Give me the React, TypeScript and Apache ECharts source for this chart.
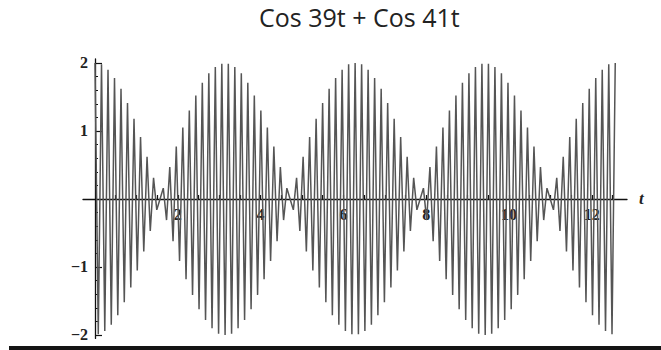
import React, { useEffect, useRef } from "react";
import * as echarts from "echarts";

const TITLE = "Cos 39t + Cos 41t";
const AXIS_NAME = "t";

// extrema of the curve, first beat period (t from 0 to about 6.28)
const tFirstBeat = [
  0, 0.079, 0.157, 0.236, 0.314, 0.393, 0.471, 0.55, 0.628, 0.707, 0.785, 0.864, 0.942, 1.021, 1.1, 1.178, 1.257,
  1.335, 1.414, 1.492, 1.571, 1.649, 1.728, 1.806, 1.885, 1.963, 2.042, 2.121, 2.199, 2.278, 2.356, 2.435, 2.513,
  2.592, 2.67, 2.749, 2.827, 2.906, 2.985, 3.063, 3.142, 3.22, 3.299, 3.377, 3.456, 3.534, 3.613, 3.691, 3.77,
  3.848, 3.927, 4.006, 4.084, 4.163, 4.241, 4.32, 4.398, 4.477, 4.555, 4.634, 4.712, 4.791, 4.869, 4.948, 5.027,
  5.105, 5.184, 5.262, 5.341, 5.419, 5.498, 5.576, 5.655, 5.733, 5.812, 5.89, 5.969, 6.048, 6.126, 6.205, 6.283,
];
const yFirstBeat = [
  2.0, -1.99, 1.98, -1.94, 1.9, -1.85, 1.78, -1.71, 1.62, -1.52, 1.41, -1.3, 1.18, -1.05, 0.91, -0.77, 0.62,
  -0.47, 0.31, -0.16, 0, 0.16, -0.31, 0.47, -0.62, 0.77, -0.91, 1.05, -1.18, 1.3, -1.41, 1.52, -1.62,
  1.71, -1.78, 1.85, -1.9, 1.94, -1.98, 1.99, -2.0, 1.99, -1.98, 1.94, -1.9, 1.85, -1.78, 1.71, -1.62,
  1.52, -1.41, 1.3, -1.18, 1.05, -0.91, 0.77, -0.62, 0.47, -0.31, 0.16, 0, -0.16, 0.31, -0.47, 0.62,
  -0.77, 0.91, -1.05, 1.18, -1.3, 1.41, -1.52, 1.62, -1.71, 1.78, -1.85, 1.9, -1.94, 1.98, -1.99, 2.0,
];
// extrema of the curve, second beat period (t from about 6.36 to 12.57)
const tSecondBeat = [
  6.362, 6.44, 6.519, 6.597, 6.676, 6.754, 6.833, 6.912, 6.99, 7.069, 7.147, 7.226, 7.304, 7.383, 7.461, 7.54,
  7.618, 7.697, 7.775, 7.854, 7.933, 8.011, 8.09, 8.168, 8.247, 8.325, 8.404, 8.482, 8.561, 8.639, 8.718, 8.796,
  8.875, 8.954, 9.032, 9.111, 9.189, 9.268, 9.346, 9.425, 9.503, 9.582, 9.66, 9.739, 9.817, 9.896, 9.975, 10.053,
  10.132, 10.21, 10.289, 10.367, 10.446, 10.524, 10.603, 10.681, 10.76, 10.838, 10.917, 10.996, 11.074, 11.153,
  11.231, 11.31, 11.388, 11.467, 11.545, 11.624, 11.702, 11.781, 11.859, 11.938, 12.017, 12.095, 12.174, 12.252,
  12.331, 12.409, 12.488, 12.566,
];
const ySecondBeat = [
  -1.99, 1.98, -1.94, 1.9, -1.85, 1.78, -1.71, 1.62, -1.52, 1.41, -1.3, 1.18, -1.05, 0.91, -0.77, 0.62,
  -0.47, 0.31, -0.16, 0, 0.16, -0.31, 0.47, -0.62, 0.77, -0.91, 1.05, -1.18, 1.3, -1.41, 1.52, -1.62,
  1.71, -1.78, 1.85, -1.9, 1.94, -1.98, 1.99, -2.0, 1.99, -1.98, 1.94, -1.9, 1.85, -1.78, 1.71, -1.62,
  1.52, -1.41, 1.3, -1.18, 1.05, -0.91, 0.77, -0.62, 0.47, -0.31, 0.16, 0, -0.16, 0.31, -0.47, 0.62,
  -0.77, 0.91, -1.05, 1.18, -1.3, 1.41, -1.52, 1.62, -1.71, 1.78, -1.85, 1.9, -1.94, 1.98, -1.99, 2.0,
];

const xTickValues = [0.5, 1, 1.5, 2, 2.5, 3, 3.5, 4, 4.5, 5, 5.5, 6, 6.5, 7, 7.5, 8, 8.5, 9, 9.5, 10, 10.5, 11, 11.5, 12, 12.5];
const xLabelValues = [2, 4, 6, 8, 10, 12];
const yMajorValues = [-2, -1, 1, 2];
const yMinorValues = [-2, -1.8, -1.6, -1.4, -1.2, -1, -0.8, -0.6, -0.4, -0.2, 0.2, 0.4, 0.6, 0.8, 1, 1.2, 1.4, 1.6, 1.8, 2];

const X_MIN = -0.29;
const X_MAX = 12.85;
const Y_MIN = -2.05;
const Y_MAX = 2.06;

const GRID_LEFT = 83;
const GRID_TOP = 58.9;
const GRID_WIDTH = 544;
const GRID_HEIGHT = 279.5;

export default function App() {
  const ref = useRef<HTMLDivElement>(null);

  useEffect(() => {
    if (!ref.current) return;
    const chart = echarts.init(ref.current, null, { renderer: "svg" });
    const data: number[][] = [];
    tFirstBeat.forEach((t, i) => data.push([t, yFirstBeat[i]]));
    tSecondBeat.forEach((t, i) => data.push([t, ySecondBeat[i]]));

    // move the axes from the grid edges to the zero lines
    const xAxisOffset = -(GRID_HEIGHT * (0 - Y_MIN)) / (Y_MAX - Y_MIN);
    const yAxisOffset = -(GRID_WIDTH * (0 - X_MIN)) / (X_MAX - X_MIN);

    const labelFont = {
      fontFamily: "'Liberation Serif', 'DejaVu Serif', serif",
      fontWeight: "bold" as const,
      fontSize: 16,
      color: "#222",
    };

    chart.setOption({
      animation: false,
      backgroundColor: "#fff",
      title: {
        text: TITLE,
        left: 254,
        top: -1,
        textStyle: {
          fontFamily: "'Open Sans', 'Noto Sans', sans-serif",
          fontWeight: "normal",
          fontSize: 25,
          color: "#222",
        },
      },
      grid: {
        left: GRID_LEFT,
        top: GRID_TOP,
        width: GRID_WIDTH,
        height: GRID_HEIGHT,
        outerBoundsMode: "none",
        containLabel: false,
      },
      xAxis: {
        type: "value",
        min: X_MIN,
        max: X_MAX,
        position: "bottom",
        offset: xAxisOffset,
        name: AXIS_NAME,
        nameLocation: "end",
        nameGap: 12,
        nameTextStyle: {
          fontFamily: "'Liberation Serif', serif",
          fontStyle: "italic",
          fontWeight: "bold",
          fontSize: 17,
          color: "#222",
        },
        axisLine: { onZero: false, lineStyle: { color: "#111", width: 1.3 } },
        axisTick: { inside: true, length: 4, customValues: xTickValues, lineStyle: { color: "#111", width: 1.2 } },
        axisLabel: { customValues: xLabelValues, margin: 8, ...labelFont },
        splitLine: { show: false },
      },
      yAxis: [
        {
          type: "value",
          min: Y_MIN,
          max: Y_MAX,
          position: "left",
          offset: yAxisOffset,
          axisLine: { onZero: false, lineStyle: { color: "#111", width: 1.3 } },
          axisTick: { inside: true, length: 7, customValues: yMajorValues, lineStyle: { color: "#111", width: 1.2 } },
          axisLabel: {
            customValues: yMajorValues,
            margin: 7,
            formatter: (v: number) => (v < 0 ? "\u2212" + Math.abs(v) : String(v)),
            ...labelFont,
          },
          splitLine: { show: false },
        },
        {
          type: "value",
          min: Y_MIN,
          max: Y_MAX,
          position: "left",
          offset: yAxisOffset,
          axisLine: { show: false, onZero: false },
          axisTick: { inside: true, length: 3, customValues: yMinorValues, lineStyle: { color: "#111", width: 1 } },
          axisLabel: { show: false },
          splitLine: { show: false },
        },
      ],
      graphic: [
        {
          type: "rect",
          shape: { x: 9, y: 346, width: 652, height: 4 },
          style: { fill: "#151515" },
          silent: true,
        },
      ],
      series: [
        {
          type: "line",
          data,
          xAxisIndex: 0,
          yAxisIndex: 0,
          showSymbol: false,
          symbol: "none",
          silent: true,
          lineStyle: { color: "#555", width: 1.5 },
        },
      ],
    });
    return () => chart.dispose();
  }, []);

  return (
    <div
      ref={ref}
      style={{ position: "fixed", left: 0, top: 0, width: 661, height: 350, background: "#fff" }}
    />
  );
}
